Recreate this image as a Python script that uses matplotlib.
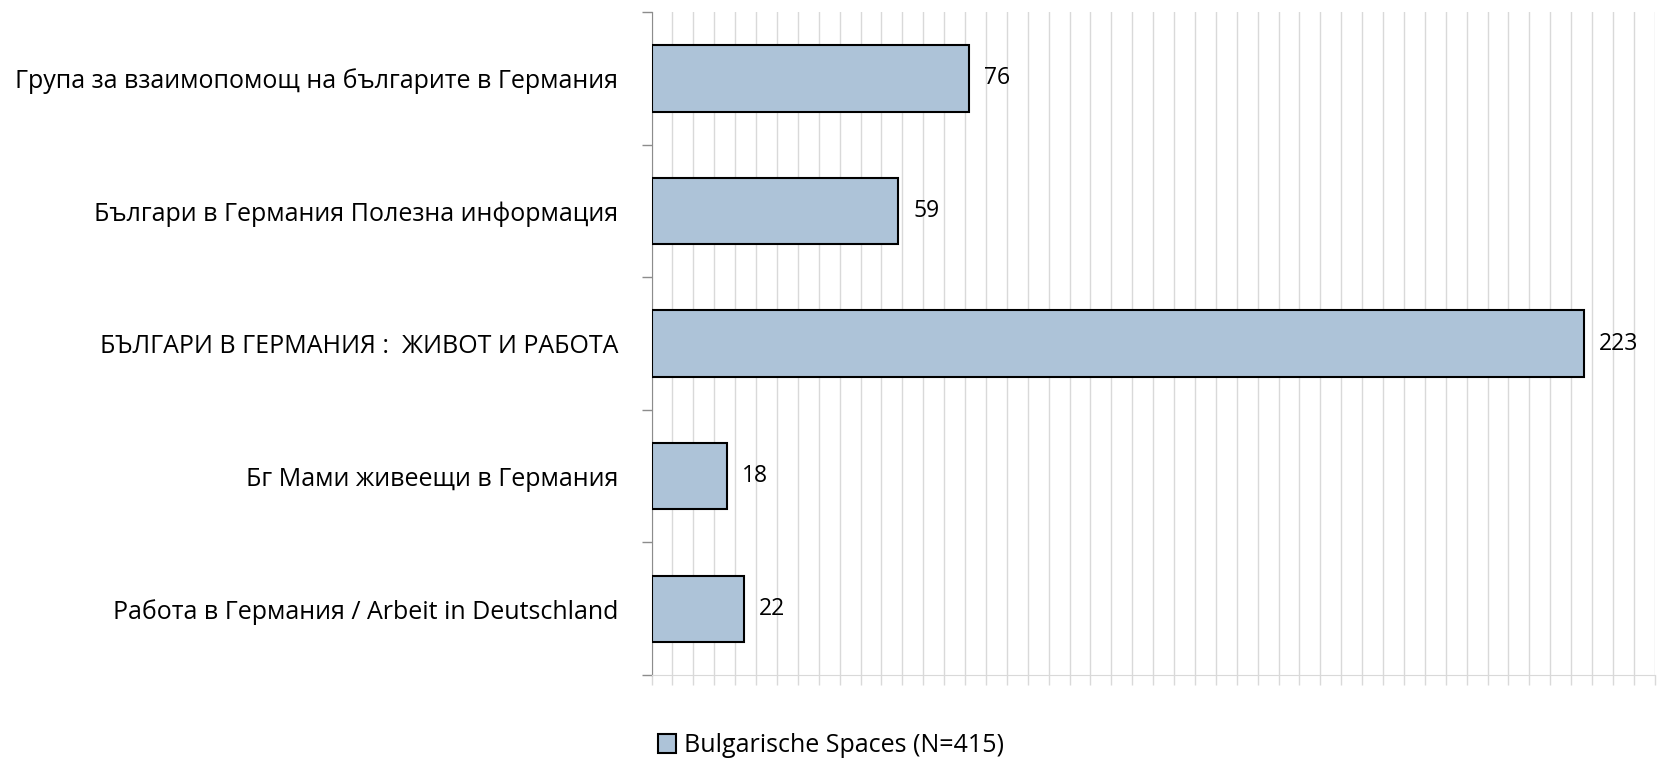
import numpy as np
import matplotlib.pyplot as plt
from matplotlib.ticker import MultipleLocator

plt.rcParams['font.family'] = ['Open Sans', 'DejaVu Sans']

# categories from top to bottom
categories = [
    'Група за взаимопомощ на българите в Германия',
    'Българи в Германия Полезна информация',
    'БЪЛГАРИ В ГЕРМАНИЯ :  ЖИВОТ И РАБОТА',
    'Бг Мами живеещи в Германия',
    'Работа в Германия / Arbeit in Deutschland',
]
values = [76, 59, 223, 18, 22]
series_name = 'Bulgarische Spaces (N=415)'

fig = plt.figure(figsize=(16.58, 7.61), dpi=100)
ax = fig.add_axes([0.393, 0.113, 0.605, 0.871])

y = np.arange(len(categories))[::-1]
bars = ax.barh(y, values, height=0.5, color='#adc3d8', edgecolor='black',
               linewidth=1.5, label=series_name, zorder=3)

for b, v in zip(bars, values):
    ax.text(b.get_width() + 3.6, b.get_y() + b.get_height() / 2, str(v),
            va='center', ha='left', fontsize=16.5)

ax.set_xlim(0, 240)
ax.set_ylim(-0.5, len(categories) - 0.5)
ax.xaxis.set_major_locator(MultipleLocator(5))
ax.set_xticklabels([])
ax.grid(axis='x', color='#d9d9d9', linewidth=1, zorder=0)
ax.tick_params(axis='x', length=7, color='#d9d9d9', width=1)

ax.set_yticks(y)
ax.set_yticklabels(categories, fontsize=18)
ax.set_yticks(np.arange(-0.5, len(categories), 1), minor=True)
ax.tick_params(axis='y', which='major', length=0, pad=24)
ax.tick_params(axis='y', which='minor', length=7, color='#8c8c8c', width=1)

for s in ['top', 'right']:
    ax.spines[s].set_visible(False)
ax.spines['left'].set_color('#8c8c8c')
ax.spines['bottom'].set_color('#d9d9d9')

fig.legend(handles=[bars], labels=[series_name], loc='center',
           bbox_to_anchor=(0.501, 0.02), frameon=False, fontsize=18,
           handlelength=0.75, handleheight=0.75, handletextpad=0.3)

fig.savefig('out.png', dpi=100)
